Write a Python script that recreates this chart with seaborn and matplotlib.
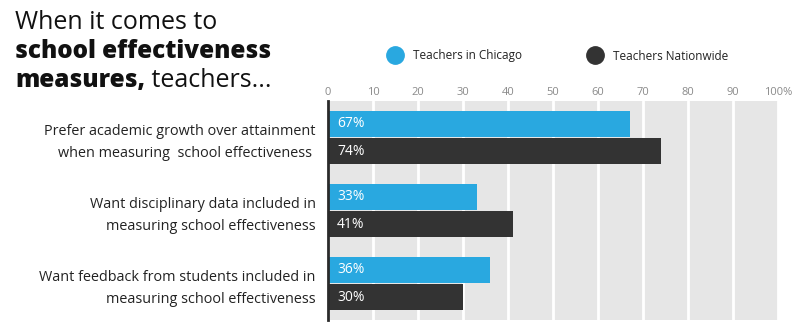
import matplotlib
matplotlib.use("Agg")
import matplotlib.pyplot as plt
from matplotlib.lines import Line2D
import seaborn as sns
import pandas as pd

categories = [
    "Prefer academic growth over attainment\nwhen measuring  school effectiveness ",
    "Want disciplinary data included in\nmeasuring school effectiveness",
    "Want feedback from students included in\nmeasuring school effectiveness",
]
chicago = [67, 33, 36]
nationwide = [74, 41, 30]
series_names = ["Teachers in Chicago", "Teachers Nationwide"]
tick_values = [0, 10, 20, 30, 40, 50, 60, 70, 80, 90, 100]
tick_labels = ["0", "10", "20", "30", "40", "50", "60", "70", "80", "90", "100%"]

BLUE = "#29a8e0"
DARK = "#333333"
FONT = "Open Sans"

df = pd.DataFrame({
    "question": categories * 2,
    "value": chicago + nationwide,
    "group": [series_names[0]] * 3 + [series_names[1]] * 3,
})

sns.set_theme(style="white")
plt.rcParams["font.family"] = [FONT, "DejaVu Sans"]

fig = plt.figure(figsize=(8, 3.3), dpi=100)
ax = fig.add_axes([0.41, 0.0303, 0.5625, 0.6637])

sns.barplot(data=df, y="question", x="value", hue="group", orient="y",
            palette=[BLUE, DARK], width=0.75, gap=0.05, ax=ax,
            legend=False, saturation=1, linewidth=0, order=categories,
            hue_order=series_names)

ax.set_facecolor("#e6e6e6")
ax.set_xlim(0, 100)
ax.set_ylim(2.5, -0.5)
ax.set_xticks(tick_values)
ax.set_xticklabels(tick_labels)
ax.xaxis.tick_top()
ax.tick_params(axis="x", length=0, pad=2.5, labelsize=8, labelcolor="#8a8a8a")
ax.tick_params(axis="y", length=0, pad=9, labelsize=10.4, labelcolor="#222222")
for lbl in ax.get_xticklabels():
    lbl.set_fontfamily(FONT)
for lbl in ax.get_yticklabels():
    lbl.set_fontfamily(FONT)
    lbl.set_linespacing(1.6)
ax.set_xlabel("")
ax.set_ylabel("")
ax.set_axisbelow(True)
ax.grid(axis="x", color="white", linewidth=2)
ax.grid(axis="y", visible=False)
for s in ["top", "right", "bottom"]:
    ax.spines[s].set_visible(False)
ax.spines["left"].set_color("#2a2a2a")
ax.spines["left"].set_linewidth(2)

for container in ax.containers:
    for bar in container:
        w = bar.get_width()
        yc = bar.get_y() + bar.get_height() / 2
        ax.annotate(f"{w:.0f}%", xy=(0, yc), xytext=(9, 0),
                    textcoords="offset pixels", ha="left", va="center",
                    color="white", fontsize=10, fontfamily=FONT)

# legend
handles = [Line2D([], [], marker="o", linestyle="none", markersize=12.5,
                  markerfacecolor=c, markeredgecolor=c) for c in (BLUE, DARK)]
leg = fig.legend(handles, series_names, ncol=2, loc="center left",
                 bbox_to_anchor=(388 / 800, 1 - 56 / 330), frameon=False,
                 prop={"family": FONT, "size": 8.5}, handletextpad=0.93,
                 columnspacing=5.6, handlelength=1.2, borderaxespad=0,
                 borderpad=0)
for t in leg.get_texts():
    t.set_color("#222222")

# title
fig.text(0.019, 1 - 29 / 330, "When it comes to", fontsize=18, color="#111111",
         fontfamily=FONT, va="baseline", ha="left")
fig.text(0.019, 1 - 58 / 330, "school effectiveness", fontsize=17.5,
         fontweight="heavy", color="#111111", fontfamily=FONT, va="baseline",
         ha="left")
t1 = fig.text(0.019, 1 - 87 / 330, "measures,", fontsize=17.5, fontweight="heavy",
              color="#111111", fontfamily=FONT, va="baseline", ha="left")
fig.canvas.draw()
bb = t1.get_window_extent()
x2 = bb.x1 / fig.bbox.width
fig.text(x2, 1 - 87 / 330, " teachers...", fontsize=18, color="#111111",
         fontfamily=FONT, va="baseline", ha="left")

fig.savefig("out.png", dpi=100)
